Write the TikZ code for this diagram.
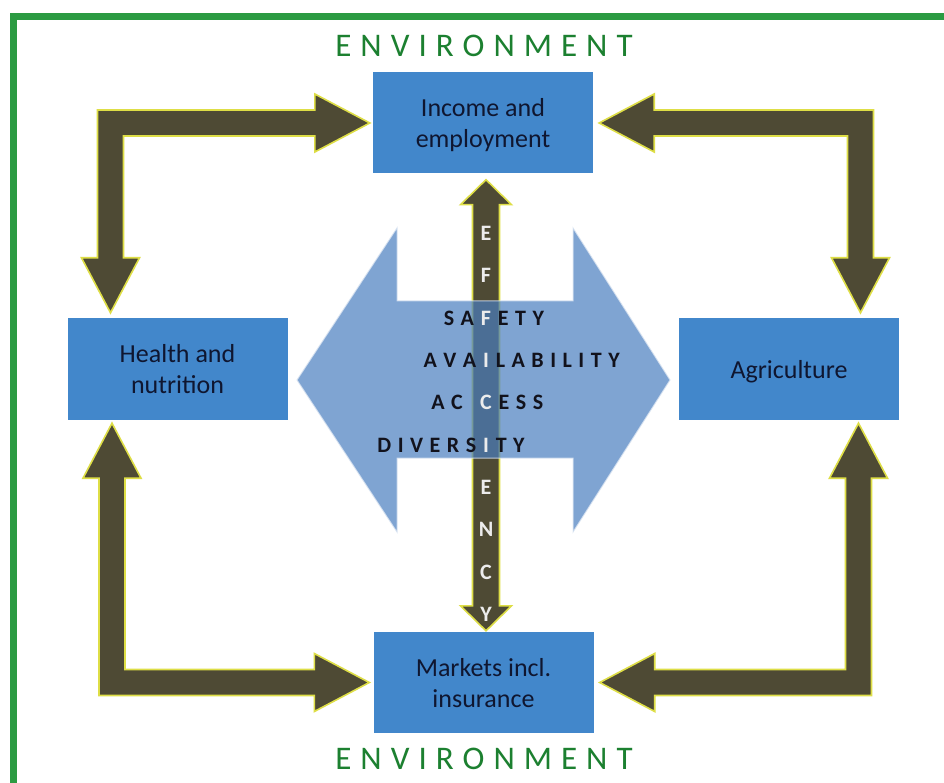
\documentclass[tikz,border=0pt]{standalone}
\usepackage{fontspec}
\setmainfont{Carlito}
\usetikzlibrary{calc}
\definecolor{framegreen}{RGB}{44,155,66}
\definecolor{envgreen}{RGB}{28,128,48}
\definecolor{boxblue}{RGB}{66,135,203}
\definecolor{boxtext}{RGB}{15,22,48}
\definecolor{arrowdark}{RGB}{78,74,52}
\definecolor{arrowedge}{RGB}{222,222,70}
\definecolor{bigblue}{RGB}{74,126,191}
\definecolor{worddark}{RGB}{18,18,28}
\definecolor{lettlight}{RGB}{236,236,236}
\newcommand{\lsp}{\kern6.5pt }
\newcommand{\envk}{\kern9pt }
\def\aw{13pt}
\def\ah{29pt}
\def\al{55pt}
\newcommand{\bentarrow}[3]{%
  \path[bent] let \p1=#1, \p2=#2, \p3=#3, \n1={sign(\x2-\x1)}, \n2={sign(\y3-\y1)} in
  ({\x1-(\n1)*\aw},{\y1-(\n2)*\aw}) --
  ({\x2-(\n1)*\al},{\y1-(\n2)*\aw}) --
  ({\x2-(\n1)*\al},{\y1-(\n2)*\ah}) --
  (\x2,\y1) --
  ({\x2-(\n1)*\al},{\y1+(\n2)*\ah}) --
  ({\x2-(\n1)*\al},{\y1+(\n2)*\aw}) --
  ({\x1+(\n1)*\aw},{\y1+(\n2)*\aw}) --
  ({\x1+(\n1)*\aw},{\y3-(\n2)*\al}) --
  ({\x1+(\n1)*\ah},{\y3-(\n2)*\al}) --
  (\x1,\y3) --
  ({\x1-(\n1)*\ah},{\y3-(\n2)*\al}) --
  ({\x1-(\n1)*\aw},{\y3-(\n2)*\al}) -- cycle;}
\tikzset{
  box/.style={fill=boxblue, minimum width=220pt, minimum height=101pt, align=center,
    text=boxtext, font=\fontsize{26}{31}\selectfont, inner sep=0pt, text depth=-4pt},
  bent/.style={fill=arrowdark, draw=arrowedge, line width=1.6pt, line join=miter},
  envtext/.style={text=envgreen, font=\fontsize{33}{33}\selectfont, inner sep=0pt},
  vl/.style={text=lettlight, font=\bfseries\fontsize{22}{22}\selectfont, inner sep=0pt, anchor=base},
  wl/.style={text=worddark, font=\bfseries\fontsize{22}{22}\selectfont, inner sep=0pt},
}
\begin{document}
\begin{tikzpicture}[x=1pt,y=-1pt]
\useasboundingbox (0,0) rectangle (944,783);
\fill[white] (0,0) rectangle (944,783);
% frame
\draw[framegreen, line width=7pt, line join=miter] (13,783) -- (13,17) -- (944,17);
% environment labels
\node[envtext] (envtop) at (484,46) {E\envk N\envk V\envk I\envk R\envk O\envk N\envk M\envk E\envk N\envk T};
\node[envtext] (envbot) at (484,759) {E\envk N\envk V\envk I\envk R\envk O\envk N\envk M\envk E\envk N\envk T};
% boxes
\node[box] (inc) at (483,123) {Income and\\employment};
\node[box, minimum height=102pt] (health) at (177.5,369) {Health and\\nutrition};
\node[box, minimum height=102pt] (agri) at (789,369) {Agriculture};
\node[box] (markets) at (483.5,682.5) {Markets incl.\\insurance};
% corners of bent arrows
\coordinate (TL) at (110.5,123);
\coordinate (TR) at (860.5,123);
\coordinate (BL) at (112,682.5);
\coordinate (BR) at (858.5,682.5);
\bentarrow{(TL)}{($(inc.west)+(-3,0)$)}{($(TL|-health.north)+(0,-5)$)}
\bentarrow{(TR)}{($(inc.east)+(6,0)$)}{($(TR|-agri.north)+(0,-5)$)}
\bentarrow{(BL)}{($(markets.west)+(-4,0)$)}{($(BL|-health.south)+(0,3)$)}
\bentarrow{(BR)}{($(markets.east)+(6,0)$)}{($(BR|-agri.south)+(0,3)$)}
% central vertical double arrow
\path[bent] let \p1=($(inc.south)+(3,6)$), \p2=($(markets.north)+(2.5,-1)$) in
  (\x1,\y1) -- ({\x1+25.5pt},{\y1-25pt}) -- ({\x1+13.5pt},{\y1-25pt}) --
  ({\x1+13.5pt},{\y2+25pt}) -- ({\x1+25.5pt},{\y2+25pt}) -- (\x1,\y2) --
  ({\x1-25.5pt},{\y2+25pt}) -- ({\x1-13.5pt},{\y2+25pt}) --
  ({\x1-13.5pt},{\y1-25pt}) -- ({\x1-25.5pt},{\y1-25pt}) -- cycle;
% big light blue double arrow
\path[fill=bigblue, fill opacity=0.7, draw=white!80!bigblue, line width=1pt, draw opacity=0.8]
  (297,380) -- (397,228) -- (397,301) -- (573,301) -- (573,228) -- (670,380)
  -- (573,532) -- (573,458) -- (397,458) -- (397,532) -- cycle;
% vertical letters EFFICIENCY
\node[vl] (v1) at (486,240.4) {E};
\node[vl] (v2) at (486,282.8) {F};
\node[vl] (v3) at (486,325.1) {F};
\node[vl] (v4) at (486,367.4) {I};
\node[vl] (v5) at (486,409.7) {C};
\node[vl] (v6) at (486,452.0) {I};
\node[vl] (v7) at (486,494.4) {E};
\node[vl] (v8) at (486,536.7) {N};
\node[vl] (v9) at (486,579.0) {C};
\node[vl] (v10) at (486,621.3) {Y};
% words
\node[wl, anchor=base east] (w1l) at (v3.base west) {S\lsp A\lsp};
\node[wl, anchor=base west] (w1r) at (v3.base east) {\lsp E\lsp T\lsp Y};
\node[wl, anchor=base east] (w2l) at (v4.base west) {A\lsp V\lsp A\lsp};
\node[wl, anchor=base west] (w2r) at (v4.base east) {\lsp L\lsp A\lsp B\lsp I\lsp L\lsp I\lsp T\lsp Y};
\node[wl, anchor=base east] (w3l) at (v5.base west) {A\lsp C\kern17pt };
\node[wl, anchor=base west] (w3r) at (v5.base east) {\lsp E\lsp S\lsp S};
\node[wl, anchor=base east] (w4l) at (v6.base west) {D\lsp I\lsp V\lsp E\lsp R\lsp S\lsp};
\node[wl, anchor=base west] (w4r) at (v6.base east) {\lsp T\lsp Y};
\end{tikzpicture}
\end{document}
